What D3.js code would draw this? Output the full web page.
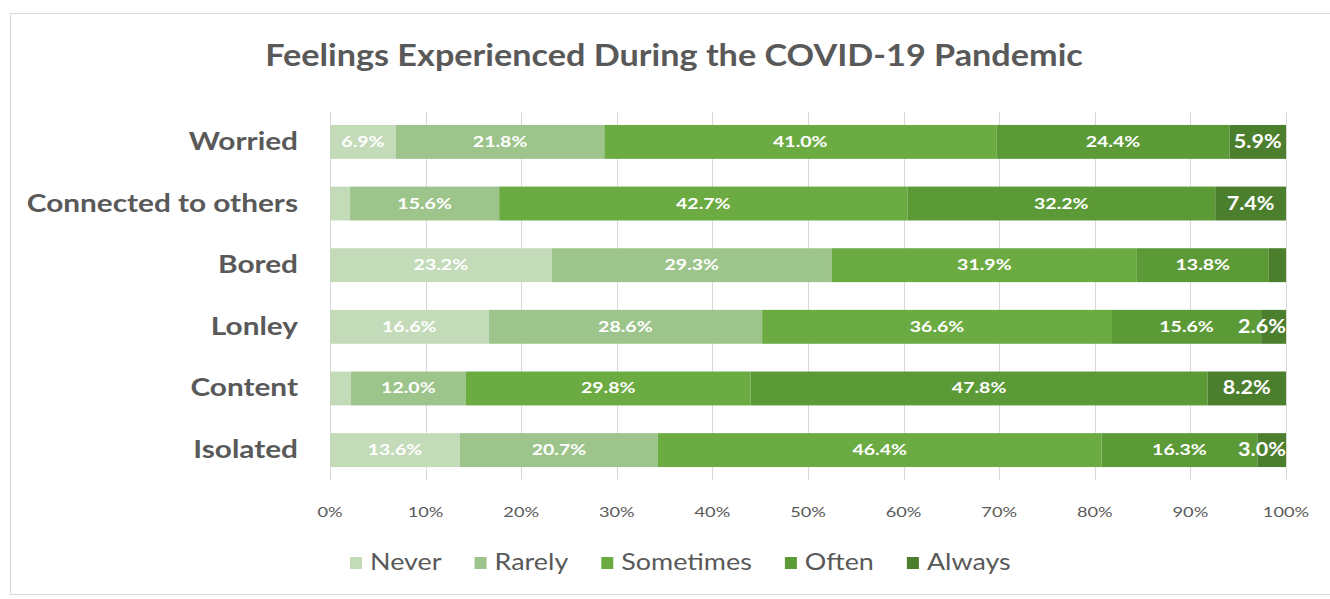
<!DOCTYPE html>
<html>
<head>
  <meta charset="utf-8">
  <title>Feelings Experienced During the COVID-19 Pandemic</title>
  <script src="https://cdn.jsdelivr.net/npm/d3@7"></script>
  <style type="text/css">
    body {
      margin: 0;
      background: #fff;
      font-family: Lato, "Open Sans", sans-serif;
    }
    .grid line {
      stroke: #d9d9d9;
      stroke-width: 1;
    }
    .cat {
      font-size: 24px;
      font-weight: 700;
      fill: #595959;
    }
    .tick-label {
      font-size: 14px;
      fill: #595959;
    }
    .val {
      font-size: 15px;
      font-weight: 700;
      fill: #fff;
    }
  </style>
</head>
<body>
  <svg id="chart" width="1330" height="599"></svg>
  <script type="text/javascript">

  // data
  const categories = ["Worried", "Connected to others", "Bored", "Lonley", "Content", "Isolated"];
  const levels = ["Never", "Rarely", "Sometimes", "Often", "Always"];
  const never     = [6.9, 2.1, 23.2, 16.6, 2.2, 13.6];
  const rarely    = [21.8, 15.6, 29.3, 28.6, 12.0, 20.7];
  const sometimes = [41.0, 42.7, 31.9, 36.6, 29.8, 46.4];
  const often     = [24.4, 32.2, 13.8, 15.6, 47.8, 16.3];
  const always    = [5.9, 7.4, 1.8, 2.6, 8.2, 3.0];
  const ticks = [0, 10, 20, 30, 40, 50, 60, 70, 80, 90, 100];
  const colors = ["#c4dbb9", "#9dc48b", "#6bab42", "#5c9a37", "#4b7e2d"];

  const rows = categories.map((c, i) => ({
    cat: c,
    Never: never[i], Rarely: rarely[i], Sometimes: sometimes[i],
    Often: often[i], Always: always[i]
  }));

  // the original text is wide-set, so stretch glyphs a bit
  function widen(sel, f) {
    sel.each(function () {
      const w = this.getComputedTextLength();
      d3.select(this).attr('textLength', w * f).attr('lengthAdjust', 'spacingAndGlyphs');
    });
    return sel;
  }

  const svg = d3.select('#chart');

  // outer frame
  svg.append('rect')
    .attr('x', 10.5).attr('y', 13.5)
    .attr('width', 1330).attr('height', 581)
    .attr('fill', 'none').attr('stroke', '#d9d9d9');

  svg.append('text')
    .attr('x', 674).attr('y', 66)
    .attr('text-anchor', 'middle')
    .style('font-size', '30px').style('font-weight', 700).style('fill', '#595959')
    .text('Feelings Experienced During the COVID-19 Pandemic')
    .call(widen, 1.14);

  const x = d3.scaleLinear().domain([0, 100]).range([330, 1286]);
  const y = d3.scaleBand().domain(categories).range([112, 480])
    .paddingInner(0.45).paddingOuter(0.21);
  const color = d3.scaleOrdinal().domain(levels).range(colors);

  // gridlines
  svg.append('g').attr('class', 'grid')
    .selectAll('line').data(ticks).enter().append('line')
    .attr('x1', (d) => Math.round(x(d)) + 0.5)
    .attr('x2', (d) => Math.round(x(d)) + 0.5)
    .attr('y1', 112).attr('y2', 480);

  svg.append('g').selectAll('text').data(ticks).enter().append('text')
    .attr('class', 'tick-label')
    .attr('x', (d) => x(d)).attr('y', 517)
    .attr('text-anchor', 'middle')
    .text((d) => d + '%')
    .call(widen, 1.3);

  // category labels
  svg.append('g').selectAll('text').data(categories).enter().append('text')
    .attr('class', 'cat')
    .attr('x', 298)
    .attr('y', (d) => y(d) + y.bandwidth() / 2 + 8)
    .attr('text-anchor', 'end')
    .text((d) => d)
    .call(widen, 1.24);

  const series = d3.stack().keys(levels)(rows);

  const layer = svg.append('g').selectAll('g').data(series).enter().append('g')
    .attr('fill', (s) => color(s.key));

  layer.selectAll('rect').data((s) => s).enter().append('rect')
    .attr('x', (d) => x(d[0]))
    .attr('y', (d) => y(d.data.cat))
    .attr('width', (d) => x(d[1]) - x(d[0]))
    .attr('height', y.bandwidth());

  // value labels (tiny segments are left unlabelled, as in the original)
  layer.each(function (s) {
    const big = s.key === 'Always';
    d3.select(this).selectAll('text')
      .data(s.filter((d) => d[1] - d[0] >= 2.5))
      .enter().append('text')
      .attr('class', 'val')
      .style('font-size', big ? '18px' : '15px')
      .attr('text-anchor', 'middle')
      .attr('y', (d) => y(d.data.cat) + y.bandwidth() / 2 + (big ? 6 : 5))
      .text((d) => (d[1] - d[0]).toFixed(1) + '%')
      .call(widen, big ? 1.2 : 1.3)
      .attr('x', function (d) {
        const w = this.getComputedTextLength();
        const cx = (x(d[0]) + x(d[1])) / 2;
        return Math.min(cx, x(100) - w / 2);
      });
  });

  // legend
  const legend = svg.append('g').attr('transform', 'translate(0,562)');
  let lx = 350;
  levels.forEach((k) => {
    legend.append('rect')
      .attr('x', lx).attr('y', -5).attr('width', 12).attr('height', 12)
      .attr('fill', color(k));
    const t = legend.append('text')
      .attr('x', lx + 20).attr('y', 8)
      .style('font-size', '23px').style('fill', '#595959')
      .text(k)
      .call(widen, 1.17);
    lx += 20 + t.node().getComputedTextLength() + 33;
  });
  </script>
</body>
</html>
